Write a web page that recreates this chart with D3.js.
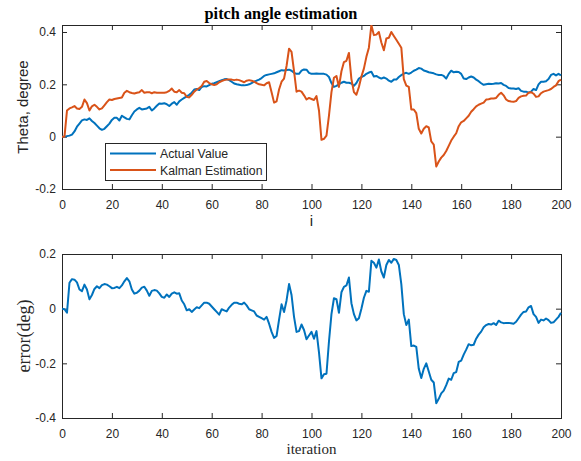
<!DOCTYPE html>
<html>
<head>
<meta charset="utf-8">
<script src="https://cdn.jsdelivr.net/npm/d3@7"></script>
<style>
  body { margin: 0; background: #fff; }
  svg text { fill: #262626; }
</style>
</head>
<body>
<svg id="fig" width="581" height="461"></svg>
<script>
// Pitch angle: measured value vs. Kalman filter estimate, iterations 0..200
const actualValue = [
  0, 0, 0.002, 0.004, 0.008, 0.02, 0.038, 0.05, 0.062, 0.066,
  0.064, 0.07, 0.06, 0.052, 0.042, 0.032, 0.026, 0.03, 0.04, 0.05,
  0.064, 0.072, 0.072, 0.062, 0.08, 0.074, 0.068, 0.066, 0.082, 0.096,
  0.104, 0.11, 0.104, 0.106, 0.108, 0.114, 0.1, 0.108, 0.118, 0.127,
  0.126, 0.128, 0.124, 0.117, 0.126, 0.132, 0.122, 0.135, 0.142, 0.148,
  0.154, 0.16, 0.168, 0.18, 0.182, 0.178, 0.19, 0.193, 0.192, 0.197,
  0.202, 0.204, 0.208, 0.212, 0.216, 0.219, 0.22, 0.216, 0.21, 0.203,
  0.2, 0.198, 0.196, 0.196, 0.197, 0.2, 0.205, 0.21, 0.214, 0.218,
  0.224, 0.232, 0.236, 0.238, 0.24, 0.242, 0.246, 0.25, 0.254, 0.253,
  0.255, 0.256, 0.252, 0.244, 0.24, 0.24, 0.252, 0.257, 0.256, 0.244,
  0.24, 0.24, 0.241, 0.24, 0.24, 0.24, 0.237, 0.228, 0.205, 0.19,
  0.194, 0.2, 0.206, 0.21, 0.206, 0.206, 0.203, 0.194, 0.205, 0.222,
  0.228, 0.232, 0.24, 0.245, 0.248, 0.23, 0.232, 0.226, 0.222, 0.226,
  0.222, 0.214, 0.21, 0.218, 0.218, 0.228, 0.235, 0.241, 0.244, 0.24,
  0.245, 0.252, 0.256, 0.262, 0.26, 0.253, 0.25, 0.246, 0.244, 0.242,
  0.238, 0.236, 0.236, 0.232, 0.222, 0.24, 0.252, 0.246, 0.248, 0.247,
  0.24, 0.222, 0.22, 0.226, 0.23, 0.226, 0.218, 0.212, 0.204, 0.198,
  0.2, 0.202, 0.201, 0.202, 0.204, 0.203, 0.205, 0.198, 0.194, 0.186,
  0.184, 0.184, 0.182, 0.185, 0.175, 0.172, 0.172, 0.168, 0.172, 0.182,
  0.178, 0.2, 0.21, 0.21, 0.212, 0.22, 0.236, 0.24, 0.234, 0.24,
  0.234
];

const kalmanEstimate = [
  0, 0, 0.1, 0.108, 0.112, 0.117, 0.108, 0.106, 0.114, 0.142,
  0.128, 0.1, 0.116, 0.122, 0.114, 0.104, 0.108, 0.12, 0.132, 0.142,
  0.14, 0.144, 0.146, 0.148, 0.15, 0.168, 0.175, 0.17, 0.167, 0.165,
  0.168, 0.17, 0.178, 0.168, 0.17, 0.17, 0.166, 0.17, 0.168, 0.168,
  0.168, 0.168, 0.17, 0.175, 0.184, 0.172, 0.17, 0.178, 0.168, 0.166,
  0.152, 0.15, 0.16, 0.172, 0.18, 0.186, 0.194, 0.21, 0.213, 0.205,
  0.2, 0.197, 0.2, 0.208, 0.212, 0.216, 0.218, 0.218, 0.218, 0.216,
  0.218, 0.216, 0.212, 0.208, 0.214, 0.216, 0.214, 0.21, 0.205, 0.2,
  0.198, 0.196, 0.204, 0.208, 0.17, 0.13, 0.135, 0.18, 0.21, 0.222,
  0.27, 0.336, 0.324, 0.25, 0.172, 0.176, 0.172, 0.158, 0.142, 0.148,
  0.144, 0.14, 0.155, 0.1, -0.012, -0.008, 0.004, 0.08, 0.17, 0.225,
  0.232, 0.19, 0.25, 0.285, 0.29, 0.32, 0.22, 0.17, 0.16, 0.19,
  0.23, 0.26, 0.305, 0.34, 0.426, 0.388, 0.39, 0.4, 0.36, 0.33,
  0.375, 0.378, 0.4, 0.385, 0.37, 0.355, 0.34, 0.22, 0.195, 0.19,
  0.104, 0.104, 0.09, 0.03, 0.012, 0.03, 0.04, 0.035, -0.018, -0.03,
  -0.114, -0.095, -0.08, -0.07, -0.055, -0.035, -0.015, 0, 0.013, 0.04,
  0.055, 0.06, 0.07, 0.08, 0.095, 0.105, 0.116, 0.122, 0.126, 0.13,
  0.142, 0.143, 0.146, 0.146, 0.148, 0.16, 0.168, 0.158, 0.142, 0.136,
  0.134, 0.133, 0.136, 0.148, 0.154, 0.156, 0.157, 0.168, 0.17, 0.164,
  0.152, 0.154, 0.166, 0.172, 0.175, 0.178, 0.182, 0.19, 0.196, 0.212,
  0.218
];

// Estimation error per iteration (degrees)
const estimationError = [
  0, -0.002, -0.015, 0.095, 0.108, 0.106, 0.096, 0.07, 0.064, 0.088,
  0.07, 0.034, 0.05, 0.072, 0.082, 0.075, 0.086, 0.09, 0.088, 0.082,
  0.075, 0.076, 0.08, 0.075, 0.085, 0.1, 0.112, 0.1, 0.07, 0.055,
  0.058, 0.066, 0.077, 0.08, 0.066, 0.047, 0.065, 0.068, 0.066, 0.056,
  0.043, 0.04, 0.052, 0.043, 0.055, 0.06, 0.055, 0.056, 0.03, 0.016,
  -0.006, -0.002, -0.012, -0.003, 0.005, 0.002, 0.012, 0.022, 0.022, 0.018,
  0.008, -0.002, -0.012, -0.022, -0.002, -0.006, -0.01, 0.004, 0.014, 0.022,
  0.022, 0.018, 0.016, 0.022, 0.012, -0.002, -0.006, -0.01, -0.025, -0.03,
  -0.035, -0.04, -0.03, -0.055, -0.085, -0.107, -0.1, -0.04, 0.016, -0.012,
  0.03, 0.09, 0.05, -0.03, -0.085, -0.082, -0.058, -0.078, -0.112, -0.098,
  -0.085, -0.11, -0.082, -0.16, -0.255, -0.24, -0.238, -0.12, -0.02, 0.038,
  0.035, -0.015, 0.06, 0.08, 0.085, 0.114, 0.02, -0.02, -0.043, -0.035,
  0, 0.04, 0.065, 0.062, 0.175, 0.168, 0.15, 0.18, 0.136, 0.114,
  0.16, 0.178, 0.168, 0.182, 0.178, 0.16, 0.09, -0.02, -0.06, -0.04,
  -0.137, -0.135, -0.14, -0.22, -0.254, -0.22, -0.2, -0.23, -0.26, -0.27,
  -0.346, -0.33, -0.31, -0.3, -0.28, -0.256, -0.26, -0.236, -0.232, -0.195,
  -0.19, -0.168, -0.15, -0.13, -0.134, -0.132, -0.11, -0.095, -0.084, -0.068,
  -0.06, -0.056, -0.058, -0.053, -0.06, -0.044, -0.05, -0.053, -0.052, -0.052,
  -0.053, -0.055, -0.048, -0.035, -0.022, -0.012, -0.01, 0.005, 0.01, -0.02,
  -0.03, -0.052, -0.04, -0.043, -0.036, -0.042, -0.052, -0.05, -0.04, -0.03,
  -0.015
];

const xTickValues = [0, 20, 40, 60, 80, 100, 120, 140, 160, 180, 200];
const angleTickValues = [-0.2, 0, 0.2, 0.4];
const errorTickValues = [-0.4, -0.2, 0, 0.2];
const legendLabels = ["Actual Value", "Kalman Estimation"];

const BLUE = "#0072BD";
const ORANGE = "#D95319";
const AXIS = "#262626";
const SANS = "'Liberation Sans', Arial, sans-serif";
const SERIF = "'Liberation Serif', 'Times New Roman', serif";

const svg = d3.select("#fig");
svg.append("rect").attr("width", 581).attr("height", 461).attr("fill", "#fff");

const left = 62, right = 561;
const x = d3.scaleLinear().domain([0, 200]).range([left, right]);

// Draws a boxed panel with inward ticks on all four sides
function panel(top, bottom, yDomain, yTicks) {
  const y = d3.scaleLinear().domain(yDomain).range([bottom, top]);
  const g = svg.append("g");

  const tickStyle = sel => {
    sel.select(".domain").remove();
    sel.selectAll(".tick line").attr("stroke", AXIS);
    sel.selectAll(".tick text")
      .attr("fill", AXIS)
      .style("font-family", SANS)
      .style("font-size", "12px");
  };

  g.append("g").attr("transform", `translate(0,${bottom})`)
    .call(d3.axisBottom(x).tickValues(xTickValues).tickSizeInner(-5).tickSizeOuter(0)
      .tickPadding(11).tickFormat(d => String(d)))
    .call(tickStyle);
  g.append("g").attr("transform", `translate(0,${top})`)
    .call(d3.axisTop(x).tickValues(xTickValues).tickSizeInner(-5).tickSizeOuter(0).tickFormat(""))
    .call(tickStyle);
  g.append("g").attr("transform", `translate(${left},0)`)
    .call(d3.axisLeft(y).tickValues(yTicks).tickSizeInner(-5).tickSizeOuter(0)
      .tickPadding(6).tickFormat(d => String(d)))
    .call(tickStyle);
  g.append("g").attr("transform", `translate(${right},0)`)
    .call(d3.axisRight(y).tickValues(yTicks).tickSizeInner(-5).tickSizeOuter(0).tickFormat(""))
    .call(tickStyle);

  g.append("rect")
    .attr("x", left + 0.5).attr("y", top + 0.5)
    .attr("width", right - left).attr("height", bottom - top)
    .attr("fill", "none").attr("stroke", AXIS).attr("stroke-width", 1);

  const clipId = "clip" + top;
  svg.append("clipPath").attr("id", clipId)
    .append("rect").attr("x", left).attr("y", top)
    .attr("width", right - left + 1).attr("height", bottom - top + 1);

  return { y, clipId };
}

function drawSeries(p, values, color) {
  const line = d3.line().x((d, i) => x(i)).y(d => p.y(d));
  svg.append("path")
    .datum(values)
    .attr("clip-path", `url(#${p.clipId})`)
    .attr("fill", "none")
    .attr("stroke", color)
    .attr("stroke-width", 2)
    .attr("stroke-linejoin", "round")
    .attr("d", line);
}

// Upper panel: angle estimation
const topPanel = panel(25, 189, [-0.2, 0.4267], angleTickValues);
drawSeries(topPanel, actualValue, BLUE);
drawSeries(topPanel, kalmanEstimate, ORANGE);

svg.append("text")
  .attr("x", 281).attr("y", 18.5)
  .attr("text-anchor", "middle")
  .style("font-family", SERIF).style("font-weight", "bold").style("font-size", "16.3px")
  .style("fill", "#000")
  .text("pitch angle estimation");

svg.append("text")
  .attr("transform", "translate(28,107) rotate(-90)")
  .attr("text-anchor", "middle")
  .style("font-family", SANS).style("font-size", "15px")
  .text("Theta, degree");

svg.append("text")
  .attr("x", 311.5).attr("y", 226)
  .attr("text-anchor", "middle")
  .style("font-family", SANS).style("font-size", "15px")
  .text("i");

// Legend
const legend = svg.append("g");
legend.append("rect")
  .attr("x", 105.5).attr("y", 143.5).attr("width", 161).attr("height", 37)
  .attr("fill", "#fff").attr("stroke", AXIS).attr("stroke-width", 1);
[BLUE, ORANGE].forEach((c, k) => {
  const ly = 153.5 + k * 16.5;
  legend.append("line")
    .attr("x1", 110).attr("x2", 156).attr("y1", ly).attr("y2", ly)
    .attr("stroke", c).attr("stroke-width", 2);
  legend.append("text")
    .attr("x", 160).attr("y", ly + 4.5)
    .style("font-family", SANS).style("font-size", "12.3px")
    .text(legendLabels[k]);
});

// Lower panel: error
const bottomPanel = panel(254, 418, [-0.4, 0.2], errorTickValues);
drawSeries(bottomPanel, estimationError, BLUE);

svg.append("text")
  .attr("transform", "translate(30,336) rotate(-90)")
  .attr("text-anchor", "middle")
  .style("font-family", SERIF).style("font-size", "18px")
  .text("error(deg)");

svg.append("text")
  .attr("x", 311.5).attr("y", 454)
  .attr("text-anchor", "middle")
  .style("font-family", SERIF).style("font-size", "15px")
  .text("iteration");
</script>
</body>
</html>
